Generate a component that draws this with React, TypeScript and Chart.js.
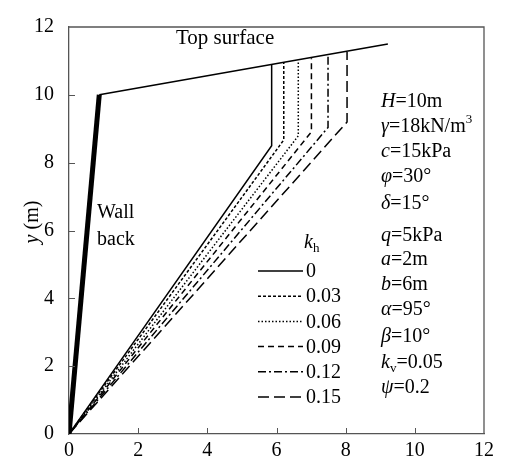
import React, { useEffect, useRef } from "react";
import { Chart, registerables } from "chart.js";

Chart.register(...registerables);

const FONT = '"Liberation Serif", "Times New Roman", serif';

// Geometry / data
const wallX = [0, 0.875];
const wallY = [0, 10];
const surfaceX = [0.875, 9.22];
const surfaceY = [10, 11.5];

const khLabels = ["0", "0.03", "0.06", "0.09", "0.12", "0.15"];
const slipX = [5.86, 6.21, 6.63, 7.01, 7.49, 8.04];
const breakY = [8.5, 8.67, 8.79, 8.91, 9.04, 9.2];
const topY = [10.88, 10.94, 11.01, 11.08, 11.17, 11.26];
const khDashes: number[][] = [[], [3, 2], [1.5, 2], [6, 4], [8, 3, 2, 3], [11, 5]];

const xTicks = [0, 2, 4, 6, 8, 10, 12];
const yTicks = [0, 2, 4, 6, 8, 10, 12];

type Seg = { t: string; i?: boolean; sub?: boolean; sup?: boolean };
const paramLines: Seg[][] = [
  [{ t: "H", i: true }, { t: "=10m" }],
  [{ t: "γ", i: true }, { t: "=18kN/m" }, { t: "3", sup: true }],
  [{ t: "c", i: true }, { t: "=15kPa" }],
  [{ t: "φ", i: true }, { t: "=30°" }],
  [{ t: "δ", i: true }, { t: "=15°" }],
  [{ t: "q", i: true }, { t: "=5kPa" }],
  [{ t: "a", i: true }, { t: "=2m" }],
  [{ t: "b", i: true }, { t: "=6m" }],
  [{ t: "α", i: true }, { t: "=95°" }],
  [{ t: "β", i: true }, { t: "=10°" }],
  [{ t: "k", i: true }, { t: "v", sub: true }, { t: "=0.05" }],
  [{ t: "ψ", i: true }, { t: "=0.2" }],
];
const paramY = [102, 127, 152, 177, 204, 236, 260, 285, 310, 337, 363, 388];

function drawRich(ctx: CanvasRenderingContext2D, segs: Seg[], x: number, y: number, size: number) {
  let cx = x;
  for (const s of segs) {
    const sz = s.sub || s.sup ? Math.round(size * 0.65) : size;
    ctx.font = `${s.i ? "italic " : ""}${sz}px ${FONT}`;
    const dy = s.sub ? size * 0.28 : s.sup ? -size * 0.35 : 0;
    ctx.fillText(s.t, cx, y + dy);
    cx += ctx.measureText(s.t).width;
  }
  return cx - x;
}

function measureRich(ctx: CanvasRenderingContext2D, segs: Seg[], size: number) {
  let w = 0;
  for (const s of segs) {
    const sz = s.sub || s.sup ? Math.round(size * 0.65) : size;
    ctx.font = `${s.i ? "italic " : ""}${sz}px ${FONT}`;
    w += ctx.measureText(s.t).width;
  }
  return w;
}

const AXIS_COLOR = "#555";

const annotPlugin = {
  id: "annot",
  afterDraw(chart: any) {
    const ctx: CanvasRenderingContext2D = chart.ctx;
    const { left, right, top, bottom } = chart.chartArea;
    const xs = chart.scales.x;
    const ys = chart.scales.y;
    ctx.save();
    // frame top & right
    ctx.strokeStyle = AXIS_COLOR;
    ctx.lineWidth = 1.3;
    ctx.beginPath();
    ctx.moveTo(left, top);
    ctx.lineTo(right, top);
    ctx.lineTo(right, bottom);
    ctx.stroke();
    // inward ticks
    ctx.lineWidth = 1;
    ctx.beginPath();
    for (const v of xTicks.slice(1, -1)) {
      const px = Math.round(xs.getPixelForValue(v)) + 0.5;
      ctx.moveTo(px, bottom);
      ctx.lineTo(px, bottom - 6);
    }
    for (const v of yTicks.slice(1, -1)) {
      const py = Math.round(ys.getPixelForValue(v)) + 0.5;
      ctx.moveTo(left, py);
      ctx.lineTo(left + 6, py);
    }
    ctx.stroke();

    ctx.fillStyle = "#000";
    ctx.textBaseline = "middle";
    ctx.textAlign = "left";

    // Top surface label
    ctx.font = `21px ${FONT}`;
    ctx.fillText("Top surface", 176, 38);
    // Wall back
    ctx.font = `20px ${FONT}`;
    ctx.fillText("Wall", 97, 213);
    ctx.fillText("back", 97, 240);

    // y axis title
    ctx.save();
    ctx.translate(33, 222);
    ctx.rotate(-Math.PI / 2);
    const ySegs: Seg[] = [{ t: "y", i: true }, { t: " (m)" }];
    const w = measureRich(ctx, ySegs, 20);
    drawRich(ctx, ySegs, -w / 2, 0, 20);
    ctx.restore();

    // parameters
    paramLines.forEach((segs, i) => drawRich(ctx, segs, 381, paramY[i], 20));

    // legend
    drawRich(ctx, [{ t: "k", i: true }, { t: "h", sub: true }], 304, 243, 20);
    khLabels.forEach((lab, i) => {
      const yy = 271 + i * 25.2;
      ctx.strokeStyle = "#000";
      ctx.lineWidth = 1.5;
      ctx.setLineDash(khDashes[i]);
      ctx.beginPath();
      ctx.moveTo(258, yy);
      ctx.lineTo(303, yy);
      ctx.stroke();
      ctx.setLineDash([]);
      ctx.font = `20px ${FONT}`;
      ctx.fillText(lab, 306, yy + 1);
    });
    ctx.restore();
  },
};

export default function App() {
  const ref = useRef<HTMLCanvasElement | null>(null);
  useEffect(() => {
    document.body.style.margin = "0";
    const datasets: any[] = [];
    datasets.push({
      label: "wall",
      data: wallX.map((x, i) => ({ x, y: wallY[i] })),
      borderColor: "#000",
      borderWidth: 5,
      borderCapStyle: "butt",
    });
    datasets.push({
      label: "surface",
      data: surfaceX.map((x, i) => ({ x, y: surfaceY[i] })),
      borderColor: "#000",
      borderWidth: 1.6,
    });
    khLabels.forEach((lab, i) => {
      datasets.push({
        label: lab,
        data: [
          { x: 0, y: 0 },
          { x: slipX[i], y: breakY[i] },
          { x: slipX[i], y: topY[i] },
        ],
        borderColor: "#000",
        borderWidth: 1.5,
        borderDash: khDashes[i],
      });
    });
    const chart = new Chart(ref.current!, {
      type: "scatter",
      data: { datasets },
      plugins: [annotPlugin],
      options: {
        responsive: false,
        animation: false,
        showLine: true,
        elements: { point: { radius: 0, hoverRadius: 0 }, line: { tension: 0 } },
        layout: { padding: { left: 0, top: 16, right: 22, bottom: 0 } },
        plugins: { legend: { display: false }, tooltip: { enabled: false } },
        scales: {
          x: {
            type: "linear",
            min: 0,
            max: 12,
            afterFit: (s: any) => {
              s.height = 37;
            },
            afterBuildTicks: (s: any) => {
              s.ticks = xTicks.map((v) => ({ value: v }));
            },
            grid: { display: false, drawTicks: false },
            border: { display: true, color: AXIS_COLOR, width: 1.3 },
            ticks: { color: "#000", padding: 5, font: { family: FONT, size: 20 } },
          },
          y: {
            type: "linear",
            min: 0,
            max: 12,
            afterFit: (s: any) => {
              s.width = 69;
            },
            afterBuildTicks: (s: any) => {
              s.ticks = yTicks.map((v) => ({ value: v }));
            },
            grid: { display: false, drawTicks: false },
            border: { display: true, color: AXIS_COLOR, width: 1.3 },
            ticks: { color: "#000", padding: 15, font: { family: FONT, size: 20 } },
          },
        },
      } as any,
    });
    return () => chart.destroy();
  }, []);
  return (
    <div style={{ width: 506, height: 471, background: "#fff" }}>
      <canvas ref={ref} width={506} height={471} />
    </div>
  );
}
